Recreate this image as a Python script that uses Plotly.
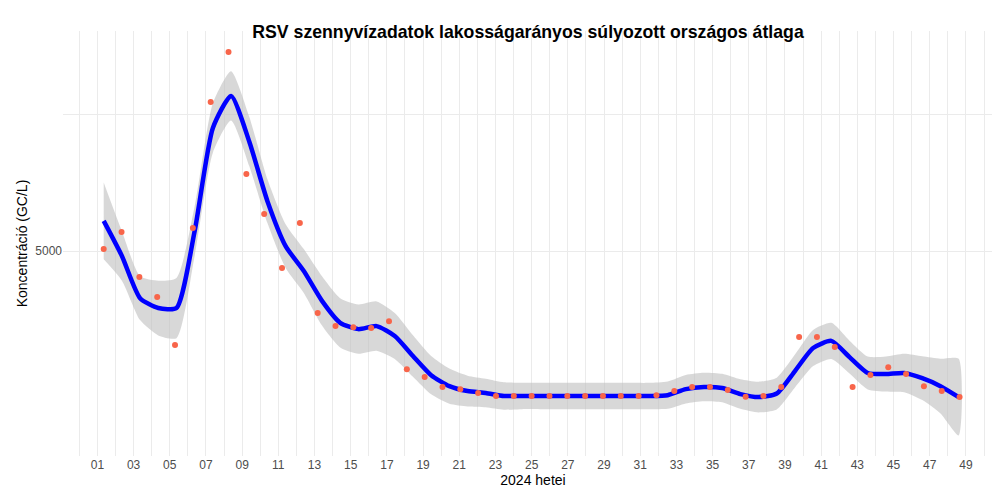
import plotly.graph_objects as go

weeks = list(range(1, 50))
points = [5036, 5347, 4525, 4160, 3285, 5420, 7720, 8630, 6405, 5675, 4690, 5510, 3870, 3630,
          3610, 3595, 3720, 2845, 2700, 2520, 2480, 2410, 2355, 2355, 2355, 2355, 2355, 2355,
          2355, 2355, 2355, 2370, 2445, 2520, 2520, 2465, 2340, 2355, 2520, 3430, 3430, 3250,
          2520, 2740, 2880, 2755, 2535, 2445, 2335]
smooth = [5550, 4910, 4140, 3960, 3960, 5365, 7245, 7830, 7000, 5910, 5090, 4635, 4090, 3690,
          3575, 3630, 3450, 3085, 2735, 2535, 2445, 2410, 2355, 2355, 2355, 2355, 2355, 2355,
          2355, 2355, 2355, 2370, 2480, 2520, 2500, 2390, 2335, 2400, 2810, 3230, 3360, 3065,
          2775, 2755, 2775, 2680, 2535, 2335]
halfw = [700, 450, 400, 500, 550, 450, 450, 450, 450, 400, 400, 400, 450, 450, 450, 450, 420,
         380, 350, 320, 280, 260, 250, 240, 240, 240, 240, 240, 240, 240, 240, 250, 260, 260,
         260, 270, 280, 290, 300, 330, 330, 300, 300, 320, 350, 400, 500, 700]

step = (48.65 - 1.35) / 48
px = [1.35 + i * step for i in range(len(points))]
sx = [1.35 + i * (48.6 - 1.35) / 47 for i in range(len(smooth))]
upper = [s + h for s, h in zip(smooth, halfw)]
lower = [s - h for s, h in zip(smooth, halfw)]

fig = go.Figure()
fig.add_trace(go.Scatter(x=sx + sx[::-1], y=upper + lower[::-1], fill="toself",
                         fillcolor="rgba(190,190,190,0.6)", line=dict(width=0, shape="spline", smoothing=0.6),
                         hoverinfo="skip", showlegend=False))
fig.add_trace(go.Scatter(x=sx, y=smooth, mode="lines",
                         line=dict(color="#0000ff", width=4.5, shape="spline", smoothing=0.6),
                         showlegend=False))
fig.add_trace(go.Scatter(x=px, y=points, mode="markers",
                         marker=dict(color="#f8654a", size=6), showlegend=False))

tickvals = list(range(0, 52))
ticktext = [f"{w:02d}" if (1 <= w <= 49 and w % 2 == 1) else "" for w in tickvals]

fig.update_layout(
    width=1000, height=500,
    paper_bgcolor="white", plot_bgcolor="white",
    margin=dict(l=55, r=5, t=23, b=52),
    font=dict(family="Liberation Sans, Arial", color="#4d4d4d", size=12),
    title=dict(text="<b>RSV szennyvízadatok lakosságarányos súlyozott országos átlaga</b>",
               x=0.52, xanchor="center", y=0.965, font=dict(size=17.7, color="black")),
    xaxis=dict(range=[-0.9, 51.05], tickvals=tickvals, ticktext=ticktext, automargin=False,
               showgrid=True, gridcolor="#ebebeb", zeroline=False, ticks="",
               title=dict(text="2024 hetei", font=dict(size=14, color="black"), standoff=2)),
    yaxis=dict(range=[1260, 9015], tickvals=[5000, 7500], ticktext=["5000", ""], automargin=False,
               showgrid=True, gridcolor="#ebebeb", zeroline=False, ticks="",
               title=dict(text="Koncentráció (GC/L)", font=dict(size=14, color="black"), standoff=4)),
)
fig.write_html("out.html")
